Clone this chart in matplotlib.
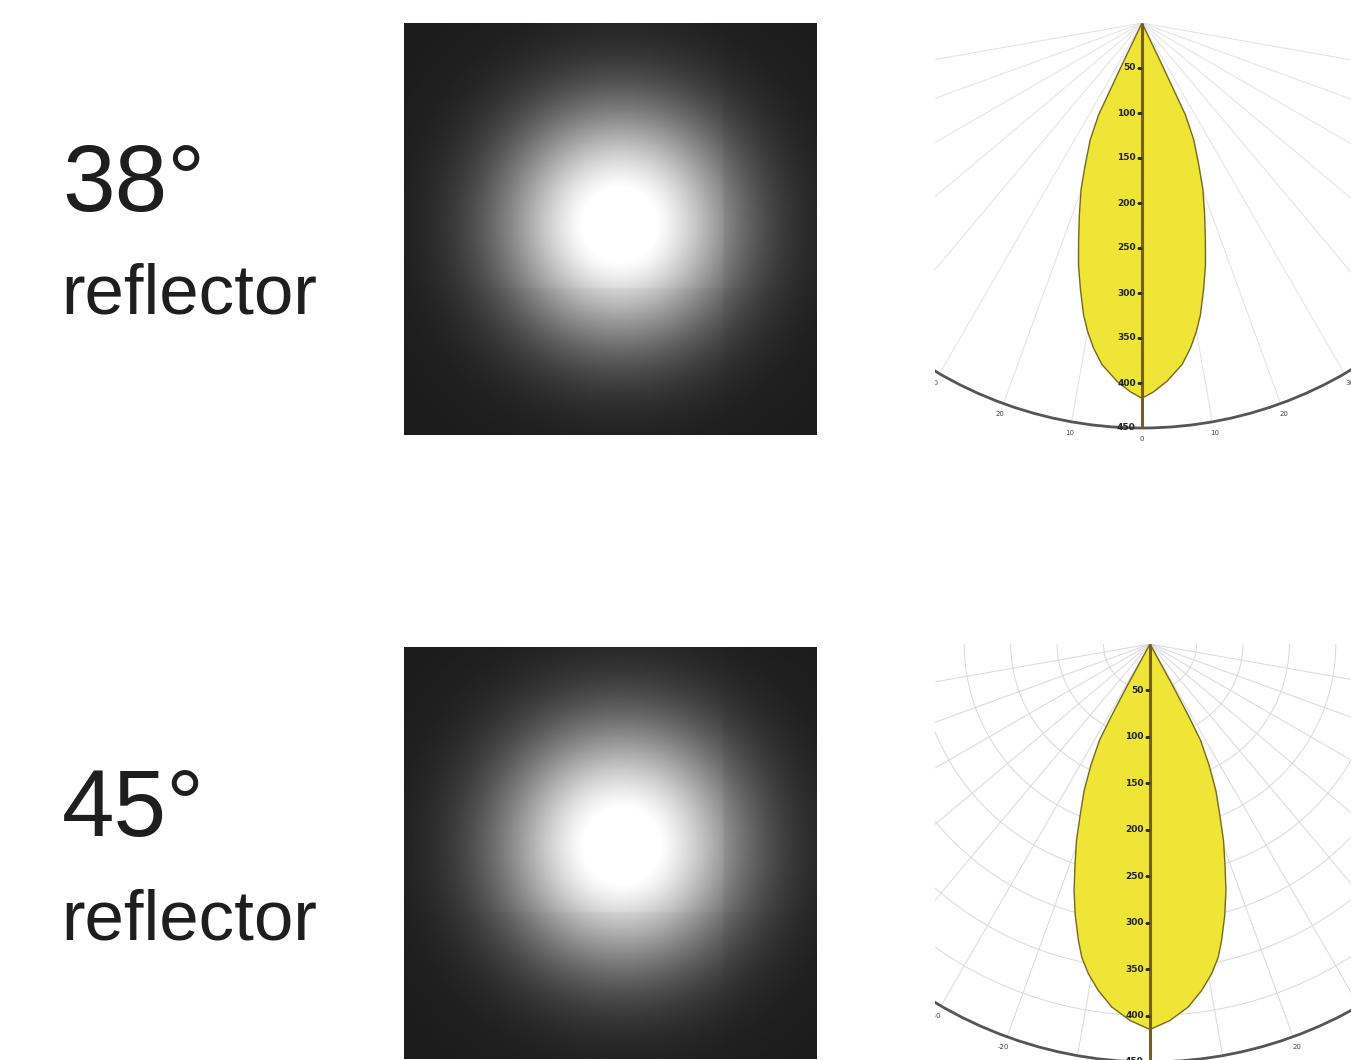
import numpy as np
import matplotlib
matplotlib.use("Agg")
import matplotlib.pyplot as plt
from matplotlib.patches import Rectangle
from matplotlib import markers

W, H = 1351, 1060

# ---------------- data ----------------
beam_labels = ["38°", "45°"]
sub_label = "reflector"

# half intensity profiles (mirrored about 0°): angle in degrees, intensity in cd
angles_38 = [0, 1.8, 4.0, 6.7, 8.5, 10.0, 11.3, 13.0, 14.7, 16.3, 18.1, 20.1,
             21.8, 23.9, 25.3, 25.6, 26.0]
cd_38 = [417, 410, 399, 382, 365, 348, 331, 304, 278, 251, 224, 197,
         170, 142, 113, 51, 0]
angles_45 = [0, 3.0, 6.0, 8.5, 10.6, 12.3, 13.6, 15.4, 17.1, 18.7, 20.5, 22.2,
             24.2, 26.0, 27.7, 28.2, 28.6, 29.0]
cd_45 = [415, 406, 393, 377, 361, 345, 328, 303, 278, 252, 226, 199,
         173, 145, 117, 87, 50, 0]

r_ticks = [50, 100, 150, 200, 250, 300, 350, 400, 450]
r_max = 450
theta_ticks = [-80, -70, -60, -50, -40, -30, -20, -10, 0, 10, 20, 30, 40, 50, 60, 70, 80]
theta_labels_top = ["", "", "", "", "", "30", "20", "10", "0", "10", "20", "30", "", "", "", "", ""]
theta_labels_bottom = ["", "", "", "", "", "-30", "-20", "-10", "0", "10", "20", "30", "", "", "", "", ""]

# beam spot photographs: centre (fraction of width, fraction from top) and radius (fraction of side)
spot_center_38 = (0.523, 0.490)
spot_center_45 = (0.528, 0.482)
spot_radius_38 = 0.290
spot_radius_45 = 0.298

# ---------------- figure ----------------
fig = plt.figure(figsize=(W / 100, H / 100), dpi=100)
fig.patch.set_facecolor("white")

TXT = "#1e1e1e"
FONT = ["Liberation Sans", "DejaVu Sans"]


def frac_rect(x0, y0, x1, y1):
    return [x0 / W, 1 - y1 / H, (x1 - x0) / W, (y1 - y0) / H]


def spot_image(center, radius, n=300):
    yy, xx = np.mgrid[0:n, 0:n] / (n - 1)
    rr = np.hypot(xx - center[0], yy - center[1]) / radius
    v = np.clip(1.08 * np.exp(-rr ** 2.2), 0, 1)
    v = v * np.where(xx > 0.773, 0.93, 1.0) * np.where(yy > 0.643, 0.96, 1.0)
    return 0.11 + 0.89 * v


def spot_panel(rect, center, radius):
    ax = fig.add_axes(rect, zorder=3)
    ax.imshow(spot_image(center, radius), cmap="gray", vmin=0, vmax=1,
              interpolation="bilinear", aspect="auto")
    ax.set_axis_off()


def polar_panel(apex_x, apex_y, R, angles, cd, theta_labels, grid_color, circles):
    # the half-disc wedge is drawn at half the axes height, centred in the axes
    cy = apex_y + R / 2
    rect = frac_rect(apex_x - 2 * R, cy - R, apex_x + 2 * R, cy + R)
    ax = fig.add_axes(rect, projection="polar", zorder=1)
    ax.set_facecolor("white")
    ax.set_theta_zero_location("S")
    ax.set_thetamin(-90)
    ax.set_thetamax(90)
    ax.set_rlim(0, r_max)
    a = np.asarray(angles, float)
    c = np.asarray(cd, float)
    th = np.deg2rad(np.concatenate([-a[::-1], a[1:]]))
    rr = np.concatenate([c[::-1], c[1:]])
    ax.fill(th, rr, facecolor="#eee537", edgecolor="#76681f", lw=1.0, zorder=3,
            joinstyle="round")
    ax.plot([0, 0], [0, r_max], color="#7a5c1e", lw=2.2, zorder=4, solid_capstyle="butt")

    ax.set_rticks(r_ticks)
    ax.set_yticklabels([])
    ax.tick_params(axis="y", length=0)
    ax.set_thetagrids(theta_ticks, labels=theta_labels)
    ax.tick_params(axis="x", labelsize=5, pad=1, colors="#444444", length=0)
    ax.xaxis.grid(True, color=grid_color, lw=0.7)
    if circles:
        ax.yaxis.grid(True, color=grid_color, lw=0.7)
    else:
        ax.yaxis.grid(False)

    for r in r_ticks:
        ax.annotate(str(r), xy=(0, r), xytext=(-4.5, 0), textcoords="offset points",
                    ha="right", va="center", fontsize=6.5, fontweight="bold",
                    color="#222222", zorder=6)
    ax.plot(np.zeros(len(r_ticks) - 1), r_ticks[:-1], ls="none",
            marker=markers.TICKLEFT, ms=3.5, mew=0.9, color="#333333", zorder=5)

    for name, sp in ax.spines.items():
        if name == "polar":
            sp.set_color("#555555")
            sp.set_linewidth(2.0)
        else:
            sp.set_edgecolor("none")
            sp.set_linewidth(0)
    return ax


# top row (38°)
polar_panel(1142, 23, 405, angles_38, cd_38, theta_labels_top,
            grid_color="#e2e2e2", circles=False)
spot_panel(frac_rect(404, 23, 817, 435), spot_center_38, spot_radius_38)

# bottom row (45°)
polar_panel(1150, 644, 418, angles_45, cd_45, theta_labels_bottom,
            grid_color="#d9d9d9", circles=True)
spot_panel(frac_rect(404, 647, 817, 1059), spot_center_45, spot_radius_45)

# blank area between the text column and the diagrams (photographs are drawn above it)
fig.add_artist(Rectangle((0, 0), 935 / W, 1, transform=fig.transFigure,
                         facecolor="white", edgecolor="none", zorder=2))

# labels
fig.text(62 / W, 1 - 211 / H, beam_labels[0], fontsize=68, family=FONT, color=TXT,
         va="baseline", zorder=4)
fig.text(61 / W, 1 - 313 / H, sub_label, fontsize=51, family=FONT, color=TXT,
         va="baseline", zorder=4)
fig.text(62 / W, 1 - 836 / H, beam_labels[1], fontsize=68, family=FONT, color=TXT,
         va="baseline", zorder=4)
fig.text(61 / W, 1 - 939 / H, sub_label, fontsize=51, family=FONT, color=TXT,
         va="baseline", zorder=4)

fig.savefig("out.png", dpi=100, facecolor="white")
